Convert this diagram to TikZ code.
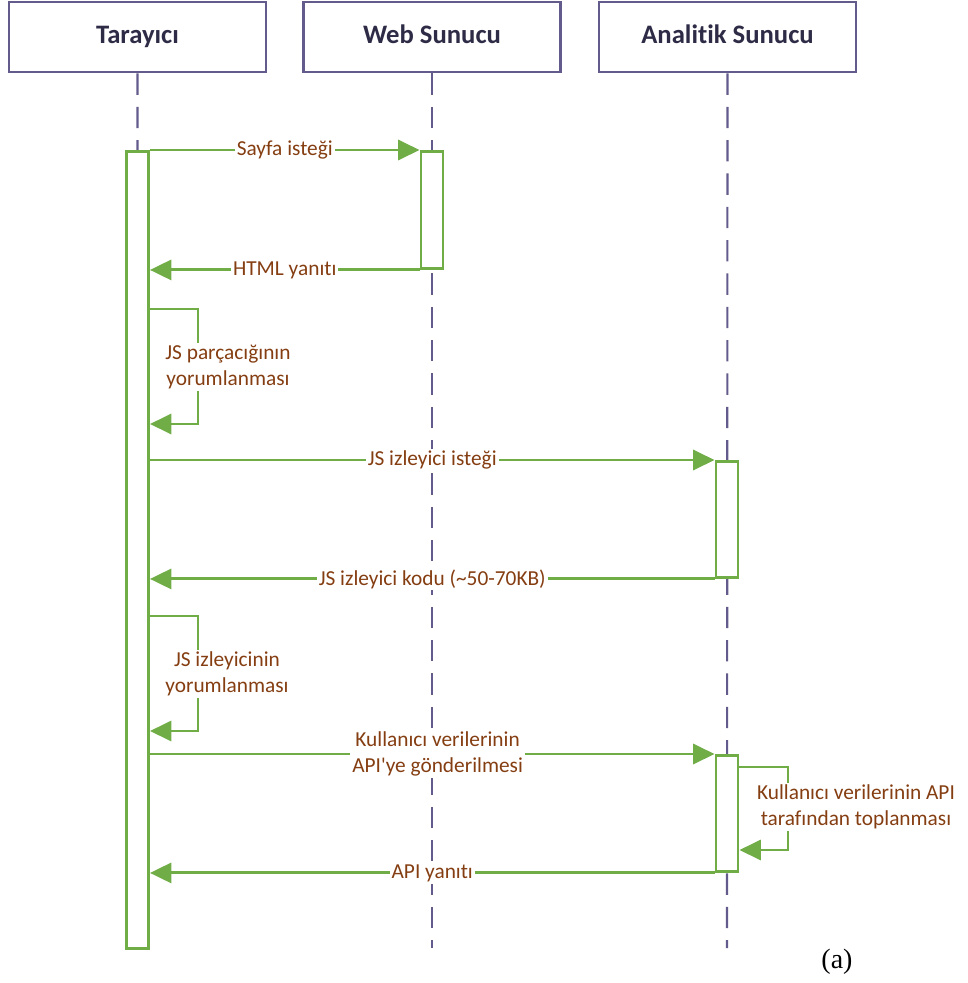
\documentclass[tikz,border=0pt]{standalone}
\usepackage{fontspec}
\setmainfont{Carlito}[RawFeature={-liga}]
\newfontfamily\capfont{Liberation Serif}
\usetikzlibrary{arrows.meta}
\definecolor{lnpurple}{RGB}{98,91,140}
\definecolor{hdtext}{RGB}{46,43,70}
\definecolor{msggreen}{RGB}{112,173,71}
\definecolor{msgtext}{RGB}{133,62,18}
\begin{document}
\begin{tikzpicture}[x=0.75pt,y=-0.75pt,
  actor/.style={draw=lnpurple, line width=2.2pt, minimum width=192.75pt,
    minimum height=52.5pt, inner sep=0pt, text=hdtext, text height=14pt, text depth=4pt,
    font=\bfseries\fontsize{20}{24}\selectfont},
  life/.style={draw=lnpurple, line width=1.6pt, dash pattern=on 16pt off 9pt},
  actbox/.style={draw=msggreen, fill=white, line width=2.2pt, minimum width=16.5pt,
    inner sep=0pt, anchor=north},
  msg/.style={draw=msggreen, line width=2.2pt, -{Triangle[length=16pt,width=15pt]}},
  lbl/.style={fill=white, inner sep=1.5pt, text=msgtext, align=center,
    font=\fontsize{16}{19.5}\selectfont}]
\useasboundingbox (0,0) rectangle (968,983);

% participants
\node[actor] (h1) at (137.5,37) {Tarayıcı};
\node[actor] (h2) at (432,37) {Web Sunucu};
\node[actor] (h3) at (727.5,37) {Analitik Sunucu};

% lifelines
\coordinate (e1) at (137,948);
\coordinate (e2) at (432,948);
\coordinate (e3) at (727,948);
\draw[life] (h1.south) -- (e1);
\draw[life] (h2.south) -- (e2);
\draw[life] (h3.south) -- (e3);

% activation bars
\node[actbox, minimum height=597.75pt] (ta) at (137.5,150) {};
\node[actbox, minimum height=87.75pt] (wa) at (432,150) {};
\node[actbox, minimum height=87pt] (a1) at (727,460) {};
\node[actbox, minimum height=87pt] (a2) at (727,754) {};

% page request / response
\draw[msg] (ta.north east) -- node[lbl] {Sayfa isteği} (wa.north west);
\draw[msg] (wa.south west) -- node[lbl] {HTML yanıtı} (ta.east |- wa.south west);

% snippet interpretation
\coordinate (s1a) at (198,309);
\coordinate (s1b) at (198,424);
\draw[msg] (ta.east |- s1a) -- (s1a) -- (s1b) -- (ta.east |- s1b);
\node[lbl] (l1) at (228,367) {JS parçacığının\\yorumlanması};

% tracker request / response
\draw[msg] (ta.east |- a1.north) -- node[lbl] {JS izleyici isteği} (a1.north west);
\draw[msg] (a1.south west) -- node[lbl] {JS izleyici kodu (\textasciitilde50-70KB)} (ta.east |- a1.south west);

% tracker interpretation
\coordinate (s2a) at (198,616);
\coordinate (s2b) at (198,731);
\draw[msg] (ta.east |- s2a) -- (s2a) -- (s2b) -- (ta.east |- s2b);
\node[lbl] (l2) at (227,674) {JS izleyicinin\\yorumlanması};

% sending data to the API
\draw[msg] (ta.east |- a2.north) -- node[lbl, xshift=4pt] {Kullanıcı verilerinin\\API\textquotesingle ye gönderilmesi} (a2.north west);

% collection by the API
\coordinate (s3a) at (788,767);
\coordinate (s3b) at (788,850);
\draw[msg] (a2.east |- s3a) -- (s3a) -- (s3b) -- (a2.east |- s3b);
\node[lbl] (l3) at (856,807) {Kullanıcı verilerinin API\\tarafından toplanması};

% API response
\draw[msg] (a2.south west) -- node[lbl] {API yanıtı} (ta.east |- a2.south west);

\node[font=\capfont\fontsize{21}{24}\selectfont] (cap) at (837,962) {(a)};
\end{tikzpicture}
\end{document}
